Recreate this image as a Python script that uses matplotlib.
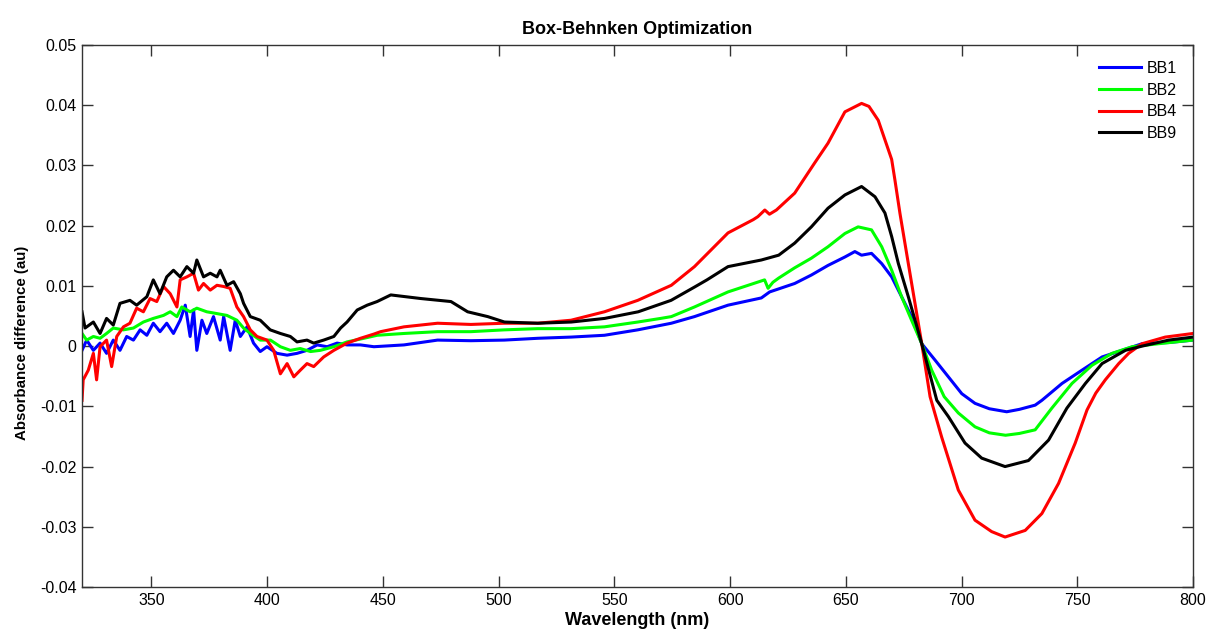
import matplotlib
matplotlib.use("Agg")
import matplotlib.pyplot as plt
from matplotlib.ticker import FuncFormatter, MultipleLocator

plt.rcParams['font.family'] = ['Liberation Sans', 'DejaVu Sans']
plt.rcParams['axes.unicode_minus'] = False

# values (wavelength nm, absorbance difference au)
bb1_nm = [320, 322, 324.9, 327.8, 330.6, 333.5, 336.4, 339.3, 342.2, 345.1, 348, 350.8,
          353.7, 356.6, 359.5, 362.4, 364.6, 366.7, 368.2, 369.6, 371.8, 373.9, 376.8,
          379.7, 381.2, 384, 386.2, 388.4, 391.3, 394.1, 397, 399.9, 404.2, 408.6, 412.9,
          417.2, 421.6, 425.9, 430.2, 434.5, 440.3, 446.1, 459.1, 473.6, 488, 502.4,
          516.9, 531.3, 545.7, 560.1, 574.6, 584.6, 599.1, 613.5, 617.1, 627.9, 635.1,
          642.3, 649.6, 653.9, 656.8, 661.1, 665.5, 669.8, 674.1, 678.4, 682.8, 688.5,
          694.3, 700.1, 705.8, 712, 719.5, 725, 731.8, 734.7, 743.4, 752, 760.7, 769.3,
          778, 789.5, 800]
bb1_val = [-0.0007, 0.0010, -0.0007, 0.0005, -0.0012, 0.0010, -0.0007, 0.0016, 0.0010,
           0.0027, 0.0018, 0.0038, 0.0024, 0.0038, 0.0021, 0.0043, 0.0068, 0.0016, 0.0060,
           -0.0007, 0.0043, 0.0021, 0.0049, 0.0010, 0.0049, -0.0007, 0.0043, 0.0016,
           0.0032, 0.0005, -0.0009, -0.0001, -0.0012, -0.0015, -0.0012, -0.0007, 0.0002,
           -0.0001, 0.0005, 0.0002, 0.0002, -0.0001, 0.0002, 0.0010, 0.0009, 0.0010,
           0.0013, 0.0015, 0.0018, 0.0027, 0.0038, 0.0049, 0.0068, 0.0080, 0.0090, 0.0104,
           0.0118, 0.0134, 0.0148, 0.0157, 0.0151, 0.0154, 0.0137, 0.0115, 0.0082, 0.0049,
           0.0004, -0.0023, -0.0051, -0.0079, -0.0095, -0.0104, -0.0109, -0.0105, -0.0098,
           -0.0090, -0.0062, -0.0040, -0.0018, -0.0007, 0.0004, 0.0006, 0.0010]

bb2_nm = [320, 322, 324.9, 327.8, 330.6, 333.5, 337.9, 342.2, 346.5, 350.8, 355.2, 358.1,
          361, 363.1, 366.7, 369.6, 373.9, 378.3, 382.6, 386.9, 389.8, 392.7, 397, 401.4,
          405.7, 410, 414.3, 418.7, 423, 428.8, 434.5, 441.8, 447.5, 459.1, 473.6, 488,
          502.4, 516.9, 531.3, 545.7, 560.1, 570, 574.6, 584.6, 599.1, 614.9, 616.4, 618.5,
          621, 627.9, 635.1, 642.3, 649.6, 655.3, 661.1, 665.5, 669.8, 674.1, 678.4,
          682.8, 687.1, 692.5, 698.6, 705.8, 712, 719, 725, 731.8, 739, 747.7, 756.3,
          765, 773.7, 785.2, 800]
bb2_val = [0.0021, 0.0010, 0.0016, 0.0013, 0.0021, 0.0030, 0.0027, 0.0030, 0.0040, 0.0046,
           0.0051, 0.0057, 0.0049, 0.0065, 0.0057, 0.0063, 0.0057, 0.0054, 0.0051, 0.0043,
           0.0030, 0.0021, 0.0010, 0.0010, -0.0001, -0.0007, -0.0004, -0.0009, -0.0007,
           -0.0001, 0.0007, 0.0013, 0.0018, 0.0021, 0.0024, 0.0024, 0.0027, 0.0029, 0.0029,
           0.0032, 0.0040, 0.0046, 0.0049, 0.0065, 0.0090, 0.0110, 0.0096, 0.0106, 0.0113,
           0.0130, 0.0146, 0.0165, 0.0187, 0.0198, 0.0193, 0.0165, 0.0126, 0.0082, 0.0043,
           0.0004, -0.0040, -0.0084, -0.0111, -0.0134, -0.0144, -0.0148, -0.0145, -0.0139,
           -0.0103, -0.0062, -0.0032, -0.0012, -0.0001, 0.0004, 0.0010]

bb4_nm = [320, 320.5, 322.7, 324.9, 326.3, 327.8, 330.6, 332.8, 335, 337.9, 340.7, 343.6,
          346.5, 349.4, 352.3, 355.2, 358.1, 361, 362.4, 365.3, 368.2, 370.3, 372.5, 375.4,
          378.3, 381.2, 384, 386.9, 389.8, 392.7, 395.6, 399.9, 402.8, 405.7, 408.6, 411.5,
          414.3, 417.2, 420.1, 424.4, 428.8, 434.5, 440.3, 446.1, 449, 459.1, 473.6, 488,
          502.4, 516.9, 531.3, 545.7, 560.1, 574.6, 584.6, 599.1, 610, 612, 615, 617, 620,
          627.9, 636.5, 642.3, 649.6, 656.8, 660, 664, 669.8, 671.2, 673.4, 677, 682.8,
          686.4, 691.4, 698.6, 705.8, 713, 718.8, 727.5, 734.7, 741.9, 749.1, 754.2, 758,
          762.1, 767.9, 772.2, 778, 788, 800]
bb4_val = [-0.0090, -0.0056, -0.0040, -0.0012, -0.0056, -0.0001, 0.0010, -0.0034, 0.0016,
           0.0032, 0.0038, 0.0063, 0.0057, 0.0079, 0.0074, 0.0099, 0.0087, 0.0065, 0.0110,
           0.0115, 0.0121, 0.0093, 0.0104, 0.0093, 0.0101, 0.0099, 0.0096, 0.0065, 0.0049,
           0.0027, 0.0016, 0.0010, -0.0007, -0.0046, -0.0029, -0.0051, -0.0040, -0.0029,
           -0.0034, -0.0018, -0.0007, 0.0005, 0.0013, 0.0020, 0.0024, 0.0032, 0.0038, 0.0036,
           0.0038, 0.0038, 0.0043, 0.0057, 0.0076, 0.0101, 0.0132, 0.0188, 0.0210, 0.0215,
           0.0226, 0.0219, 0.0226, 0.0254, 0.0304, 0.0337, 0.0389, 0.0403, 0.0398, 0.0375,
           0.0310, 0.0276, 0.0220, 0.0137, 0.0004, -0.0084, -0.0151, -0.0239, -0.0289,
           -0.0308, -0.0317, -0.0306, -0.0278, -0.0228, -0.0161, -0.0106, -0.0078, -0.0056,
           -0.0029, -0.0012, 0.0004, 0.0015, 0.0021]

bb9_nm = [320, 321.3, 324.9, 327.8, 330.6, 333.5, 336.4, 340.7, 343.6, 348, 350.8, 353.7,
          356.6, 359.5, 362.4, 365.3, 368.2, 369.6, 372.5, 375.4, 378.3, 379.7, 382.6, 385.5,
          388.4, 389.8, 392.7, 397, 401.3, 405.7, 410, 412.9, 417.2, 420.1, 424.4, 428.8,
          431.7, 434.5, 438.9, 443.2, 447.5, 453.4, 466.4, 479.4, 486.6, 495.3, 502.5, 517,
          531.4, 545.8, 560.3, 574.5, 584.6, 590, 599.1, 613.5, 621, 627.9, 635.1, 642.3,
          649.6, 656.8, 662.6, 666.9, 669.8, 672.7, 677, 682.8, 689.3, 694.3, 701.5, 708.7,
          718.8, 728.9, 737.6, 745.5, 753.5, 760.7, 770.8, 778, 789.5, 800]
bb9_val = [0.0057, 0.0030, 0.0040, 0.0021, 0.0046, 0.0035, 0.0071, 0.0076, 0.0068, 0.0082,
           0.0110, 0.0087, 0.0115, 0.0126, 0.0115, 0.0132, 0.0121, 0.0143, 0.0115, 0.0121,
           0.0115, 0.0126, 0.0101, 0.0107, 0.0087, 0.0071, 0.0049, 0.0043, 0.0027, 0.0021,
           0.0016, 0.0007, 0.0010, 0.0005, 0.0010, 0.0016, 0.0030, 0.0040, 0.0060, 0.0068,
           0.0074, 0.0085, 0.0079, 0.0074, 0.0057, 0.0049, 0.0040, 0.0038, 0.0040, 0.0046,
           0.0057, 0.0076, 0.0098, 0.0110, 0.0132, 0.0143, 0.0151, 0.0171, 0.0198, 0.0229,
           0.0251, 0.0265, 0.0248, 0.0221, 0.0182, 0.0137, 0.0082, 0.0004, -0.0090, -0.0117,
           -0.0161, -0.0186, -0.0200, -0.0190, -0.0156, -0.0103, -0.0062, -0.0029, -0.0007,
           0.0000, 0.0010, 0.0015]

series = [("BB1", bb1_nm, bb1_val, (0, 0, 1)),
          ("BB2", bb2_nm, bb2_val, (0, 1, 0)),
          ("BB4", bb4_nm, bb4_val, (1, 0, 0)),
          ("BB9", bb9_nm, bb9_val, (0, 0, 0))]

fig = plt.figure(figsize=(12.08, 6.31), dpi=100)
ax = fig.add_axes([0.0679, 0.0697, 0.9197, 0.8590])

for name, xs, ys, col in series:
    ax.plot(xs, ys, color=col, lw=2.2, label=name)

ax.set_xlim(320, 800)
ax.set_ylim(-0.04, 0.05)
ax.xaxis.set_major_locator(MultipleLocator(50))
ax.yaxis.set_major_locator(MultipleLocator(0.01))
ax.yaxis.set_major_formatter(FuncFormatter(lambda v, p: "%g" % round(v, 4)))

for s in ax.spines.values():
    s.set_color('#333333')
    s.set_linewidth(1)
ax.tick_params(direction='in', length=8, width=1, top=True, right=True,
               colors='#333333', labelcolor='black', labelsize=11.5, pad=4)

ax.set_title("Box-Behnken Optimization", fontsize=13, fontweight='bold', pad=8)
ax.set_xlabel("Wavelength (nm)", fontsize=13, fontweight='bold', labelpad=3)
ax.set_ylabel("Absorbance difference (au)", fontsize=10.8, fontweight='bold', labelpad=5)
ax.yaxis.set_label_coords(-0.048, 0.45)

ax.legend(loc='upper right', frameon=False, fontsize=11.5, handlelength=2.6,
          handletextpad=0.38, labelspacing=0.42, borderaxespad=0.6)

fig.savefig("out.png", dpi=100)
